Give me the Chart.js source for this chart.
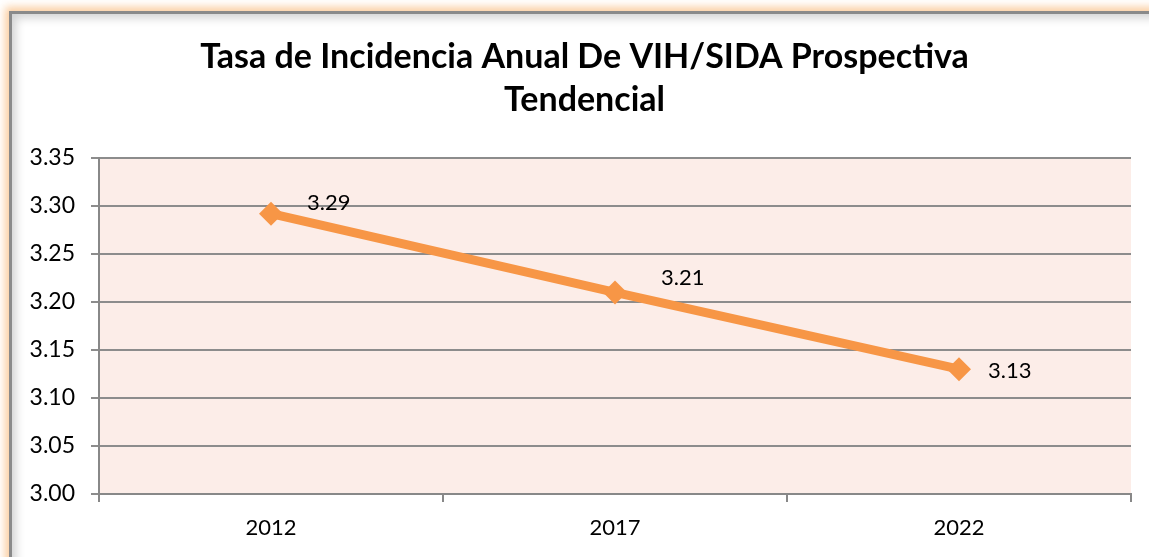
<!DOCTYPE html>
<html>
<head>
<meta charset="utf-8">
<script src="https://cdn.jsdelivr.net/npm/chart.js@4"></script>
<style>
  html, body { margin: 0; padding: 0; background: #fff; }
  body { width: 1149px; height: 557px; position: relative; overflow: hidden; }
  .frame {
    position: absolute; left: 9px; top: 11px; width: 1150px; height: 560px;
    border: 3px solid #8a8a8a; box-sizing: border-box; background: #fff;
    box-shadow: 0 0 8px 4px rgba(250, 190, 130, 0.75),
                inset 8px 8px 10px -4px rgba(0, 0, 0, 0.18);
  }
  #wrap { position: absolute; left: 0; top: 0; width: 1149px; height: 557px; }
</style>
</head>
<body>
<div class="frame"></div>
<div id="wrap"><canvas id="chart"></canvas></div>
<script>
// chart data
var years = ['2012', '2017', '2022'];
var tasa = [3.292, 3.21, 3.13];
var tasaLabels = ['3.29', '3.21', '3.13'];
var titleLines = ['Tasa de Incidencia Anual De VIH/SIDA Prospectiva', 'Tendencial'];

// label offsets relative to each point (pixels)
var labelOffsets = [[36, -11], [46, -14], [29, 2]];

// fills the plot area with the pale pink background
var plotBg = {
    id: 'plotBg',
    beforeDraw: function(chart) {
        var a = chart.chartArea;
        var ctx = chart.ctx;
        ctx.save();
        ctx.fillStyle = '#fcede8';
        ctx.fillRect(a.left, a.top, a.right - a.left, a.bottom - a.top);
        ctx.restore();
    }
};

// title centred on the whole frame (the frame runs past the right edge)
var frameTitle = {
    id: 'frameTitle',
    afterDraw: function(chart) {
        var ctx = chart.ctx;
        ctx.save();
        ctx.font = 'bold 34px Lato';
        ctx.fillStyle = '#000';
        ctx.textAlign = 'center';
        ctx.textBaseline = 'middle';
        titleLines.forEach(function(line, i) {
            ctx.fillText(line, chart.width / 2 + 10, 57 + i * 43);
        });
        ctx.restore();
    }
};

// draws the value next to each point
var pointLabels = {
    id: 'pointLabels',
    afterDatasetsDraw: function(chart) {
        var ctx = chart.ctx;
        var meta = chart.getDatasetMeta(0);
        ctx.save();
        ctx.font = '22px Lato';
        ctx.fillStyle = '#000';
        ctx.textAlign = 'left';
        ctx.textBaseline = 'middle';
        meta.data.forEach(function(pt, i) {
            ctx.fillText(tasaLabels[i], pt.x + labelOffsets[i][0], pt.y + labelOffsets[i][1]);
        });
        ctx.restore();
    }
};

var ctx = document.getElementById('chart').getContext('2d');
var chart = new Chart(ctx, {
    type: 'line',
    data: {
        labels: years,
        datasets: [{
            data: tasa,
            borderColor: '#f79646',
            backgroundColor: '#f79646',
            borderWidth: 9,
            tension: 0,
            pointStyle: 'rectRot',
            pointRadius: 12,
            pointHoverRadius: 12,
            pointBorderWidth: 0,
            pointBackgroundColor: '#f79646'
        }]
    },
    plugins: [plotBg, pointLabels, frameTitle],
    options: {
        responsive: true,
        maintainAspectRatio: false,
        animation: false,
        layout: { padding: { top: 158, left: 10, right: 18, bottom: 12 } },
        plugins: {
            legend: { display: false },
            tooltip: { enabled: false },
            title: { display: false }
        },
        scales: {
            x: {
                offset: true,
                grid: {
                    offset: true,
                    drawOnChartArea: false,
                    color: '#888',
                    lineWidth: 2,
                    tickLength: 8
                },
                border: { color: '#888', width: 2 },
                ticks: { color: '#000', font: { family: 'Lato', size: 22 }, padding: 13 },
                afterFit: function(scale) { scale.height = 51; }
            },
            y: {
                min: 3.0,
                max: 3.35,
                ticks: {
                    stepSize: 0.05,
                    color: '#000',
                    font: { family: 'Lato', size: 23 },
                    padding: 16,
                    callback: function(v) { return v.toFixed(2); }
                },
                grid: { color: '#8c8c8c', lineWidth: 2, tickLength: 8 },
                border: { color: '#888', width: 2 },
                afterFit: function(scale) { scale.width = 89; }
            }
        }
    }
});
</script>
</body>
</html>
